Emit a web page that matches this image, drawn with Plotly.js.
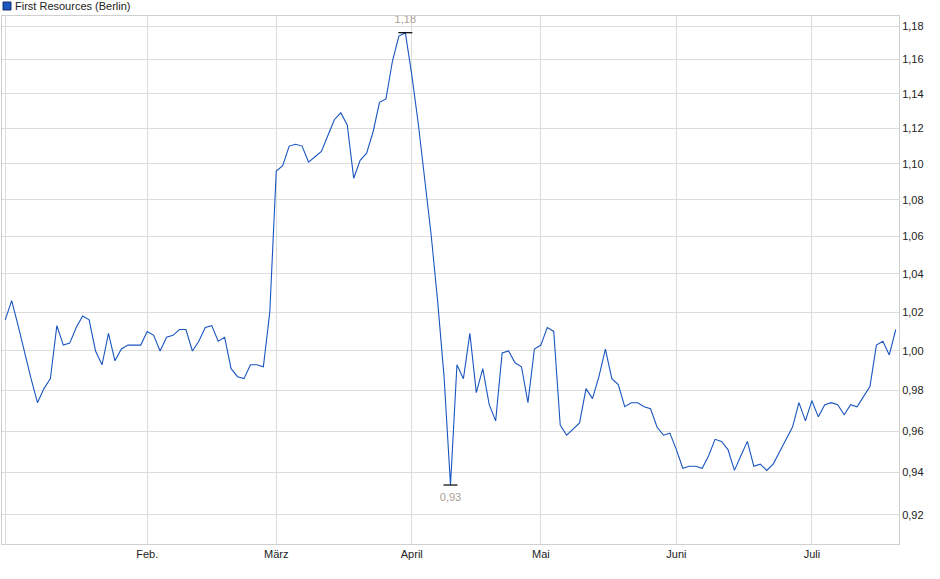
<!DOCTYPE html>
<html>
<head>
<meta charset="utf-8">
<script src="https://cdn.plot.ly/plotly-3.0.1.min.js"></script>
<style>
  html, body { margin: 0; padding: 0; background: #fff; }
  #chart { width: 940px; height: 579px; }
</style>
</head>
<body>
<div id="chart"></div>
<script>
// daily closes, one per trading day (2 Jan .. 17 Jul)
const closes = [
  1.016, 1.026, 1.013, 0.999, 0.986, 0.974, 0.981, 0.986, 1.013, 1.003,
  1.004, 1.012, 1.018, 1.016, 1.000, 0.993, 1.009, 0.995, 1.001, 1.003,
  1.003, 1.003, 1.010, 1.008, 1.000, 1.007, 1.008, 1.011, 1.011, 1.000,
  1.005, 1.012, 1.013, 1.005, 1.007, 0.991, 0.987, 0.986, 0.993, 0.993,
  0.992, 1.020, 1.096, 1.099, 1.110, 1.111, 1.110, 1.101, 1.104, 1.107,
  1.116, 1.125, 1.129, 1.122, 1.092, 1.102, 1.106, 1.118, 1.135, 1.137,
  1.159, 1.174, 1.176, 1.151, 1.123, 1.093, 1.061, 1.026, 0.987, 0.934,
  0.993, 0.986, 1.009, 0.979, 0.991, 0.973, 0.965, 0.999, 1.000, 0.994,
  0.992, 0.974, 1.001, 1.003, 1.012, 1.010, 0.963, 0.958, 0.961, 0.964,
  0.981, 0.976, 0.987, 1.001, 0.986, 0.983, 0.972, 0.974, 0.974, 0.972,
  0.971, 0.962, 0.958, 0.959, 0.951, 0.942, 0.943, 0.943, 0.942, 0.948,
  0.956, 0.955, 0.951, 0.941, 0.948, 0.955, 0.943, 0.944, 0.941, 0.944,
  0.950, 0.956, 0.962, 0.974, 0.965, 0.975, 0.967, 0.973, 0.974, 0.973,
  0.968, 0.973, 0.972, 0.977, 0.982, 1.003, 1.005, 0.998, 1.011
]

// first trading day of each month (index into closes)
const monthStarts = [0, 22, 42, 63, 83, 104, 125]
const monthLabels = ['', 'Feb.', 'März', 'April', 'Mai', 'Juni', 'Juli']
const priceTicks = [0.92, 0.94, 0.96, 0.98, 1.00, 1.02, 1.04, 1.06, 1.08, 1.10, 1.12, 1.14, 1.16, 1.18]

const seriesName = 'First Resources (Berlin)'
const lineColor = '#1a56c0'

let days = closes.map((v, i) => i)

let hiIdx = closes.indexOf(Math.max(...closes))
let loIdx = closes.indexOf(Math.min(...closes))
let fmt = v => v.toFixed(2).replace('.', ',')

let extremeTrace = (idx, pos) => ({
  type: 'scatter',
  mode: 'markers+text',
  x: [idx],
  y: [closes[idx]],
  text: [fmt(closes[idx])],
  textposition: pos,
  textfont: { family: 'Liberation Sans, Arial, sans-serif', size: 11, color: '#aaa095' },
  marker: { symbol: 'line-ew-open', size: 10, color: '#000', line: { color: '#000', width: 1.2 } },
  hoverinfo: 'skip'
})

let traces = [
  {
    type: 'scatter',
    mode: 'lines',
    x: days,
    y: closes,
    line: { color: lineColor, width: 1.1 },
    hoverinfo: 'skip'
  },
  extremeTrace(hiIdx, 'top center'),
  extremeTrace(loIdx, 'bottom center')
]

let layout = {
  width: 940,
  height: 579,
  margin: { l: 2, r: 41, t: 16, b: 35 },
  paper_bgcolor: '#fff',
  plot_bgcolor: '#fff',
  showlegend: false,
  separators: ',.',
  font: { family: 'Liberation Sans, Arial, sans-serif', size: 11, color: '#222' },
  xaxis: {
    range: [-0.5, 138.5],
    tickmode: 'array',
    tickvals: monthStarts,
    ticktext: monthLabels,
    showgrid: true,
    gridcolor: '#dcdcdc',
    gridwidth: 1,
    zeroline: false,
    showline: true,
    linecolor: '#d0d0d0',
    mirror: true,
    ticks: '',
    tickfont: { size: 11, color: '#222' }
  },
  yaxis: {
    type: 'log',
    side: 'right',
    range: [-0.0427, 0.0741],
    tickmode: 'array',
    tickvals: priceTicks,
    tickformat: '.2f',
    showgrid: true,
    gridcolor: '#dcdcdc',
    gridwidth: 1,
    zeroline: false,
    showline: true,
    linecolor: '#d0d0d0',
    mirror: true,
    ticks: '',
    tickfont: { size: 11, color: '#222' }
  },
  shapes: [
    {
      type: 'rect', xref: 'paper', yref: 'paper',
      xsizemode: 'pixel', ysizemode: 'pixel',
      xanchor: 0, yanchor: 1,
      x0: 1, x1: 9, y0: 6, y1: 14,
      fillcolor: '#1a56c0',
      line: { color: '#1b2f66', width: 1 }
    }
  ],
  annotations: [
    {
      xref: 'paper', yref: 'paper',
      x: 0, y: 1,
      xshift: 11, yshift: 10,
      xanchor: 'left', yanchor: 'middle',
      showarrow: false,
      text: seriesName,
      font: { size: 11, color: '#222' }
    }
  ]
}

Plotly.newPlot('chart', traces, layout, { displayModeBar: false, staticPlot: true })
</script>
</body>
</html>
